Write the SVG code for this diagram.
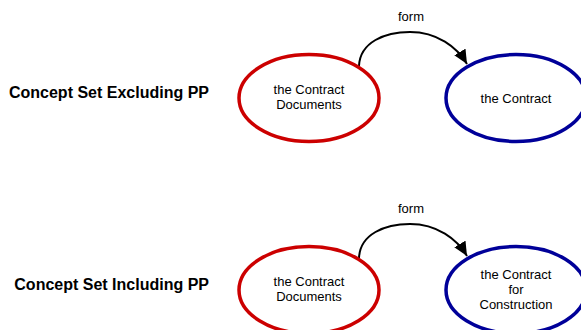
<svg xmlns="http://www.w3.org/2000/svg" width="581" height="330" viewBox="0 0 581 330">
<style>
.lbl{font-family:"Liberation Sans",Arial,sans-serif;font-size:16px;font-weight:bold;fill:#000;text-anchor:end}
.t{font-family:"Liberation Sans",Arial,sans-serif;font-size:13px;fill:#000;text-anchor:middle}
.red{fill:#fff;stroke:#cc0000;stroke-width:3.5}
.blue{fill:#fff;stroke:#000099;stroke-width:3.5}
.edge{fill:none;stroke:#000;stroke-width:2}
</style>
<defs>
<marker id="arr" markerUnits="userSpaceOnUse" markerWidth="16" markerHeight="14" refX="14" refY="6.5" orient="auto">
<path d="M0,0 L14,6.5 L0,13 Z" fill="#000"/>
</marker>
</defs>
<rect width="581" height="330" fill="#fff"/>
<text class="lbl" x="209" y="98">Concept Set Excluding PP</text>
<text class="lbl" x="209" y="290">Concept Set Including PP</text>
<g id="connectors">
<path class="edge" d="M359,66 C360,42 385,32 410,32 C437,32 457,47 467,64" marker-end="url(#arr)"/>
<text class="t" x="411" y="21">form</text>
<path class="edge" d="M359,258 C360,234 385,224 410,224 C437,224 457,239 467,256" marker-end="url(#arr)"/>
<text class="t" x="411" y="213">form</text>
</g>
<g id="n1">
<ellipse class="red" cx="309" cy="98" rx="70" ry="43.5"/>
<text class="t" x="309" y="94">the Contract</text>
<text class="t" x="309" y="109">Documents</text>
</g>
<g id="n2">
<ellipse class="blue" cx="516" cy="98" rx="70" ry="43.5"/>
<text class="t" x="516" y="103">the Contract</text>
</g>
<g id="n3">
<ellipse class="red" cx="309" cy="290" rx="70" ry="43.5"/>
<text class="t" x="309" y="286">the Contract</text>
<text class="t" x="309" y="301">Documents</text>
</g>
<g id="n4">
<ellipse class="blue" cx="516" cy="290" rx="70" ry="43.5"/>
<text class="t" x="516" y="279">the Contract</text>
<text class="t" x="516" y="294">for</text>
<text class="t" x="516" y="309">Construction</text>
</g>
</svg>
